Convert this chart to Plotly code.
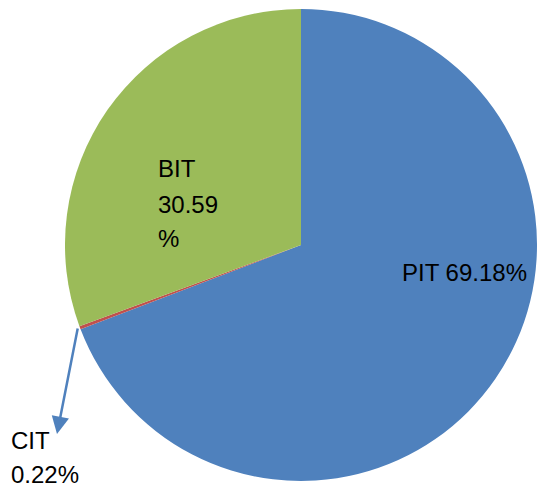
import plotly.graph_objects as go

labels = ["PIT", "CIT", "BIT"]
values = [69.18, 0.22, 30.59]
colors = ["#4F81BD", "#C0504D", "#9BBB59"]

W, H = 537, 487
FONT = "Liberation Sans"

def px(x):
    return x / W

def py(y):
    return 1 - y / H

fig = go.Figure(go.Pie(
    labels=labels,
    values=values,
    sort=False,
    direction="clockwise",
    rotation=0,
    marker=dict(colors=colors, line=dict(width=0)),
    textinfo="none",
    hoverinfo="label+percent",
    showlegend=False,
    domain=dict(x=[65 / W, 1], y=[1 - 482 / H, 1 - 8 / H]),
))

fmt = {lab: f"{v:.2f}%" for lab, v in zip(labels, values)}

annotations = []
def add(text, x, y, xanchor="left"):
    annotations.append(dict(text=text, x=px(x), y=py(y), xref="paper", yref="paper",
                            xanchor=xanchor, yanchor="middle", showarrow=False,
                            font=dict(family=FONT, size=24, color="#000000")))

# PIT label
add(f"PIT {fmt['PIT']}", 400, 272)
# BIT label (wrapped)
bit_num = f"{values[2]:.2f}"
add("BIT", 156, 168)
add(bit_num, 156, 205)
add("%", 156, 238)
# CIT label
add("CIT", 9, 440)
add(fmt["CIT"], 9, 474)

# arrow from CIT slice to its label
annotations.append(dict(x=px(57), y=py(434), ax=21, ay=-107,
                        xref="paper", yref="paper", axref="pixel", ayref="pixel",
                        text="", showarrow=True, arrowhead=2, arrowsize=1.4,
                        arrowwidth=2.5, arrowcolor="#4F81BD"))

fig.update_layout(
    width=W, height=H,
    margin=dict(l=0, r=0, t=0, b=0),
    paper_bgcolor="white",
    plot_bgcolor="white",
    annotations=annotations,
)

fig.write_html("out.html",
               config={"displayModeBar": False},
               post_script="document.body.style.margin='0';document.body.style.overflow='hidden';")
